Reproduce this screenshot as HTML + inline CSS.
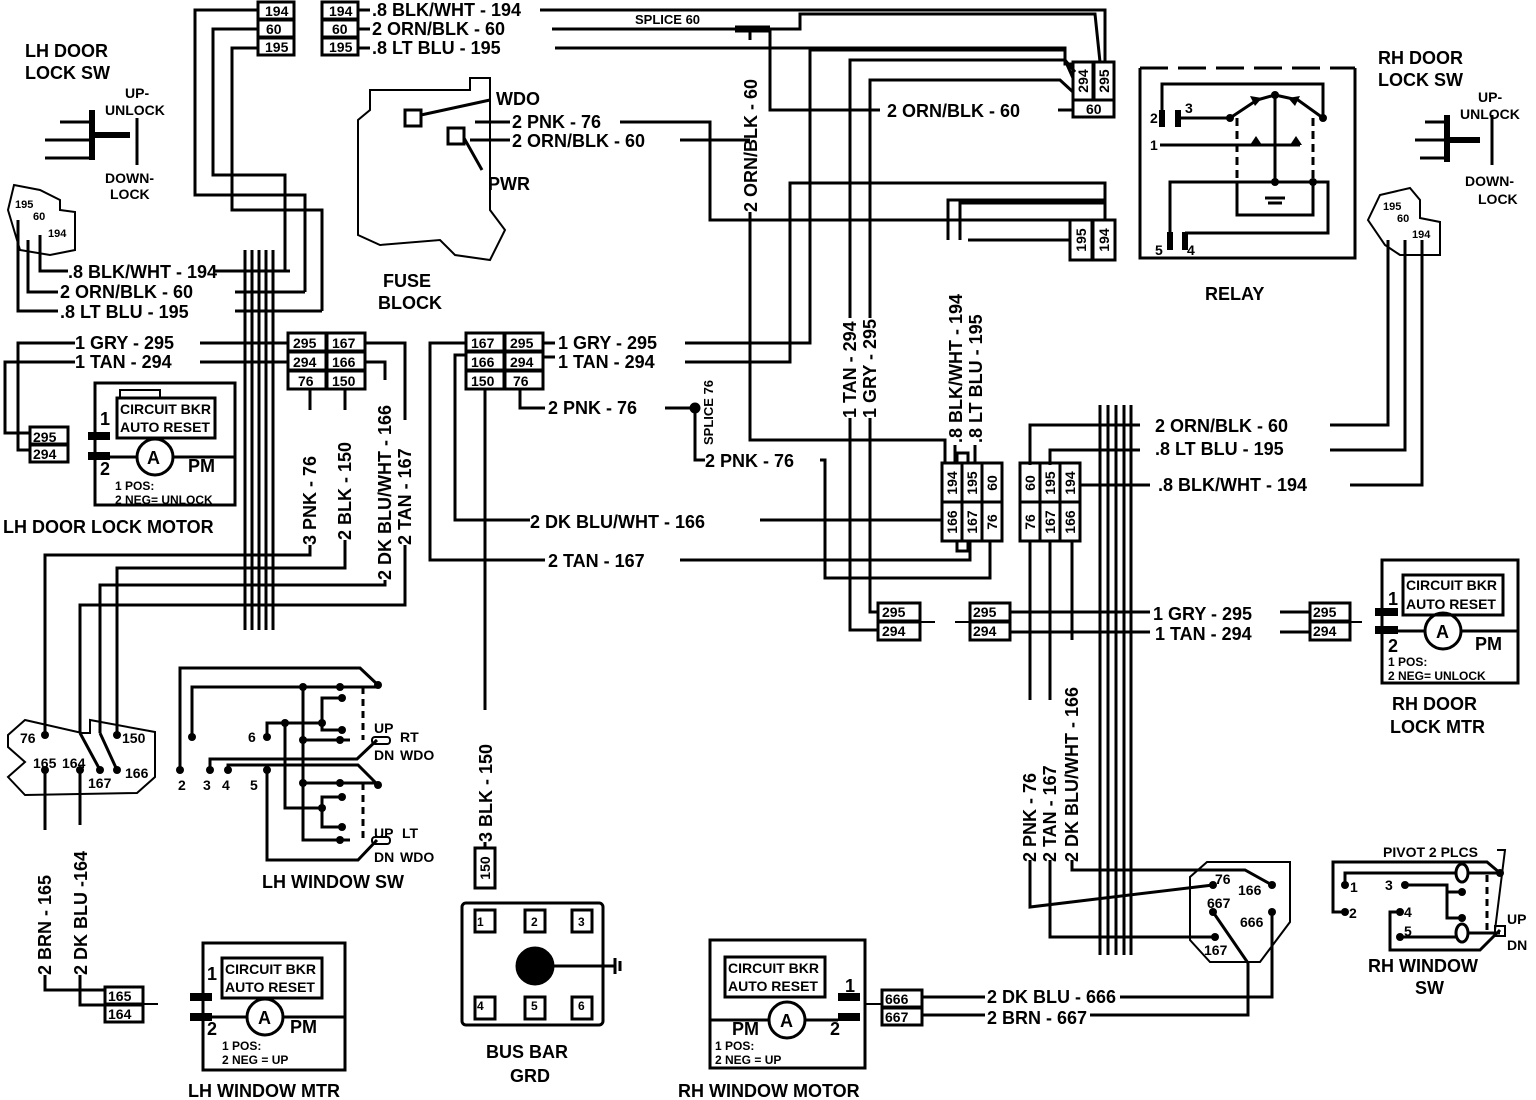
<!DOCTYPE html>
<html><head><meta charset="utf-8"><style>
html,body{margin:0;padding:0;background:#fff;}
svg{display:block;}
text{font-family:"Liberation Sans",Arial,sans-serif;font-weight:bold;fill:#000;}
</style></head><body>
<svg width="1536" height="1100" viewBox="0 0 1536 1100" xmlns="http://www.w3.org/2000/svg">
<g fill="none" stroke="#000" stroke-width="3" stroke-linejoin="miter">
<!-- top left connectors -->
<rect x="258" y="2" width="36" height="17"/><rect x="258" y="20" width="36" height="17"/><rect x="258" y="38" width="36" height="17"/>
<rect x="322" y="2" width="36" height="17"/><rect x="322" y="20" width="36" height="17"/><rect x="322" y="38" width="36" height="17"/>
<!-- top wires to right -->
<line x1="358" y1="10" x2="370" y2="10"/><line x1="358" y1="29" x2="370" y2="29"/><line x1="358" y1="48" x2="370" y2="48"/>
<polyline points="540,10 1105,10 1105,62"/>
<polyline points="552,29 735,29"/>
<polyline points="555,48 1065,48 1065,60 1073,78"/>
<line x1="735" y1="29" x2="770" y2="29" stroke-width="7"/>
<polyline points="770,29 800,29 800,14 1095,14 1100,62"/>
<polyline points="750,29 750,40"/>
<polyline points="750,212 750,440 945,440 945,463"/>
<polyline points="770,29 770,110 880,110"/>
<line x1="1058" y1="110" x2="1073" y2="110"/>
<!-- wires from top-left connector down -->
<polyline points="258,10 195,10 195,195 305,195 305,292"/>
<polyline points="258,29 213,29 213,175 285,175 285,271"/>
<polyline points="258,48 232,48 232,210 322,210 322,311"/>
<polyline points="215,271 290,271"/>
<polyline points="235,292 305,292"/>
<polyline points="235,311 322,311"/>
<polyline points="68,271 40,271 40,235"/>
<polyline points="58,292 28,292 28,240"/>
<polyline points="58,311 18,311 18,220"/>
<!-- left harness -->
<line x1="245" y1="250" x2="245" y2="630"/><line x1="252" y1="250" x2="252" y2="630"/>
<line x1="259" y1="250" x2="259" y2="630"/><line x1="266" y1="250" x2="266" y2="630"/>
<line x1="273" y1="250" x2="273" y2="630"/>
<!-- LH door lock sw -->
<polyline points="60,122 90,122"/><polyline points="45,140 90,140"/><polyline points="45,158 90,158"/>
<line x1="92" y1="110" x2="92" y2="160" stroke-width="6"/>
<line x1="92" y1="135" x2="130" y2="135" stroke-width="6"/>
<line x1="137" y1="118" x2="137" y2="165"/>
<polygon points="14,185 40,190 60,200 60,210 75,212 75,250 50,255 20,250 14,230 8,210" stroke-width="2"/>
<!-- 1 GRY / TAN -->
<polyline points="200,343 288,343"/><polyline points="200,362 288,362"/>
<polyline points="75,343 18,343 18,450 30,450"/>
<polyline points="75,362 5,362 5,433 30,433"/>
<rect x="288" y="333" width="38" height="18"/><rect x="327" y="333" width="38" height="18"/>
<rect x="288" y="352" width="38" height="18"/><rect x="327" y="352" width="38" height="18"/>
<rect x="288" y="371" width="38" height="18"/><rect x="327" y="371" width="38" height="18"/>
<polyline points="365,343 405,343 405,420"/><polyline points="365,362 385,362 385,380"/>
<polyline points="310,389 310,410"/><polyline points="345,389 345,410"/>
<!-- LH door lock motor -->
<rect x="30" y="427" width="38" height="17"/><rect x="30" y="445" width="38" height="17"/>
<rect x="95" y="383" width="140" height="122"/>
<rect x="117" y="398" width="98" height="40"/>
<polyline points="120,398 120,390 160,390 160,398" stroke-width="2"/>
<line x1="88" y1="436" x2="110" y2="436" stroke-width="8"/>
<line x1="88" y1="456" x2="110" y2="456" stroke-width="8"/>
<circle cx="155" cy="457" r="18"/>
<line x1="110" y1="457" x2="137" y2="457"/><line x1="173" y1="457" x2="235" y2="457"/>
<!-- LH bottom wires -->
<polyline points="45,735 45,555 310,555 310,545"/>
<polyline points="100,733 100,585 385,585 385,580"/>
<polyline points="117,735 117,568 345,568 345,540"/>
<polyline points="80,733 80,605 405,605 405,545"/>
<polyline points="80,733 100,770"/><polyline points="100,733 117,770"/>
<polygon points="8,735 25,720 82,733 90,733 90,720 155,732 155,777 137,793 25,795 8,777 25,762 8,747" stroke-width="2"/>
<polyline points="45,770 45,830"/><polyline points="45,975 45,990 105,990"/>
<polyline points="80,770 80,825"/><polyline points="80,975 80,1005 105,1005"/>
<rect x="105" y="987" width="38" height="17"/><rect x="105" y="1005" width="38" height="17"/>
<line x1="143" y1="1004" x2="158" y2="1004" stroke-width="2"/>
<!-- fuse block -->
<polygon points="370,90 470,90 470,78 490,78 490,210 505,230 490,260 455,255 440,240 380,245 358,235 358,120 370,110" stroke-width="2"/>
<rect x="405" y="110" width="16" height="16"/><rect x="448" y="128" width="16" height="16"/>
<line x1="421" y1="115" x2="490" y2="100"/>
<line x1="464" y1="138" x2="482" y2="170"/>
<polyline points="475,122 510,122"/><polyline points="470,140 510,140"/>
<polyline points="620,122 710,122 710,220 1105,220 1105,203 960,203 960,240"/>
<polyline points="680,140 750,140"/>
<!-- center connector -->
<rect x="466" y="333" width="38" height="18"/><rect x="505" y="333" width="38" height="18"/>
<rect x="466" y="352" width="38" height="18"/><rect x="505" y="352" width="38" height="18"/>
<rect x="466" y="371" width="38" height="18"/><rect x="505" y="371" width="38" height="18"/>
<polyline points="543,343 555,343"/><polyline points="543,357 555,357"/>
<polyline points="685,343 810,343 810,50 1065,50 1065,64 1073,64"/>
<polyline points="685,362 790,362 790,183 1105,183 1105,220"/>
<polyline points="520,389 520,408 545,408"/>
<polyline points="665,408 695,408 695,460 705,460"/>
<circle cx="695" cy="408" r="4" fill="#000"/>
<polyline points="466,355 455,355 455,520 530,520"/>
<polyline points="466,343 430,343 430,560 545,560"/>
<polyline points="760,520 942,520"/><polyline points="680,560 970,560 970,540"/>
<line x1="485" y1="389" x2="485" y2="710"/>
<line x1="485" y1="842" x2="485" y2="848"/>
<rect x="475" y="848" width="20" height="40"/>
<!-- vertical wires middle -->
<polyline points="820,460 825,460 825,578 990,578 990,540"/>
<polyline points="850,418 850,630 878,630"/>
<polyline points="870,418 870,612 878,612"/>
<polyline points="955,445 955,463"/>
<polyline points="975,445 975,463"/>
<polyline points="948,240 948,200 1105,200"/>
<polyline points="968,240 1070,240"/>
<polyline points="850,318 850,60 1065,60 1075,72"/>
<polyline points="870,318 870,80 1060,80 1073,92"/>
<!-- right connectors -->
<rect x="1073" y="62" width="20" height="38"/><rect x="1094" y="62" width="20" height="38"/><rect x="1073" y="100" width="41" height="17"/>
<rect x="1070" y="220" width="22" height="40"/><rect x="1093" y="220" width="22" height="40"/>
<!-- relay -->
<polyline points="1140,68 1140,258 1355,258 1355,68"/>
<line x1="1140" y1="68" x2="1355" y2="68" stroke-dasharray="28,10"/>
<line x1="1162" y1="110" x2="1162" y2="127" stroke-width="6"/><line x1="1178" y1="110" x2="1178" y2="127" stroke-width="6"/>
<polyline points="1162,110 1162,84 1323,84 1323,118"/>
<polyline points="1178,118 1230,118 1257,100"/>
<polyline points="1275,95 1257,100"/><polyline points="1275,95 1298,100 1323,118"/>
<line x1="1275" y1="95" x2="1275" y2="182"/>
<line x1="1160" y1="145" x2="1300" y2="145"/>
<line x1="1237" y1="118" x2="1237" y2="180" stroke-dasharray="8,5"/>
<line x1="1313" y1="118" x2="1313" y2="180" stroke-dasharray="8,5"/>
<polyline points="1170,240 1170,182 1328,182 1328,233 1185,233"/>
<polyline points="1237,182 1237,215 1313,215 1313,182"/>
<line x1="1170" y1="232" x2="1170" y2="250" stroke-width="6"/><line x1="1185" y1="232" x2="1185" y2="250" stroke-width="6"/>
<line x1="1265" y1="198" x2="1285" y2="198"/><line x1="1268" y1="203" x2="1282" y2="203"/>
<!-- RH door lock sw -->
<polyline points="1425,122 1445,122"/><polyline points="1415,140 1445,140"/><polyline points="1420,158 1445,158"/>
<line x1="1447" y1="115" x2="1447" y2="162" stroke-width="6"/>
<line x1="1447" y1="140" x2="1480" y2="140" stroke-width="6"/>
<line x1="1492" y1="115" x2="1492" y2="165"/>
<polygon points="1380,195 1410,188 1420,200 1420,218 1440,222 1440,255 1400,255 1385,245 1368,220" stroke-width="2"/>
<polyline points="1388,240 1388,425 1330,425"/>
<polyline points="1405,240 1405,450 1330,450"/>
<polyline points="1422,240 1422,485 1350,485"/>
<polyline points="1140,425 1030,425 1030,465"/>
<polyline points="1140,450 1050,450 1050,465"/>
<polyline points="1080,485 1150,485"/>
<!-- right harness -->
<line x1="1100" y1="405" x2="1100" y2="955"/><line x1="1108" y1="405" x2="1108" y2="955"/>
<line x1="1116" y1="405" x2="1116" y2="955"/><line x1="1124" y1="405" x2="1124" y2="955"/>
<line x1="1131" y1="405" x2="1131" y2="955"/>
<!-- center connectors -->
<rect x="942" y="463" width="20" height="39"/><rect x="962" y="463" width="20" height="39"/><rect x="982" y="463" width="20" height="39"/>
<rect x="942" y="502" width="20" height="39"/><rect x="962" y="502" width="20" height="39"/><rect x="982" y="502" width="20" height="39"/>
<rect x="957" y="453" width="11" height="10"/><rect x="957" y="541" width="11" height="10"/>
<rect x="1020" y="463" width="20" height="39"/><rect x="1040" y="463" width="20" height="39"/><rect x="1060" y="463" width="20" height="39"/>
<rect x="1020" y="502" width="20" height="39"/><rect x="1040" y="502" width="20" height="39"/><rect x="1060" y="502" width="20" height="39"/>
<!-- 295/294 connectors -->
<rect x="878" y="603" width="42" height="18"/><rect x="878" y="622" width="42" height="18"/>
<rect x="970" y="603" width="40" height="18"/><rect x="970" y="622" width="40" height="18"/>
<rect x="1310" y="603" width="40" height="18"/><rect x="1310" y="622" width="40" height="18"/>
<line x1="920" y1="622" x2="935" y2="622" stroke-width="2"/><line x1="955" y1="622" x2="970" y2="622" stroke-width="2"/><line x1="1350" y1="622" x2="1362" y2="622" stroke-width="2"/>
<polyline points="1010,612 1150,612"/><polyline points="1280,612 1310,612"/>
<polyline points="1010,632 1150,632"/><polyline points="1280,632 1310,632"/>
<polyline points="1050,540 1050,700"/><polyline points="1030,540 1030,700"/><polyline points="1072,540 1072,640"/>
<!-- RH door lock motor -->
<rect x="1382" y="560" width="136" height="123"/>
<rect x="1403" y="575" width="100" height="40"/>
<line x1="1375" y1="612" x2="1398" y2="612" stroke-width="8"/>
<line x1="1375" y1="630" x2="1398" y2="630" stroke-width="8"/>
<circle cx="1443" cy="631" r="18"/>
<line x1="1398" y1="631" x2="1425" y2="631"/><line x1="1461" y1="631" x2="1518" y2="631"/>
<!-- RH wires to window sw -->
<polyline points="1030,860 1030,907 1213,885"/>
<polyline points="1050,860 1050,937 1215,937"/>
<polyline points="1072,860 1072,870 1245,870 1272,885"/>
<polygon points="1207,862 1290,862 1290,922 1260,962 1210,962 1190,940 1190,877" stroke-width="2"/>
<polyline points="1213,912 1248,963 1248,1015 1090,1015"/>
<polyline points="1272,912 1272,997 1120,997"/>
<!-- RH window motor -->
<rect x="710" y="940" width="155" height="128"/>
<rect x="725" y="957" width="100" height="40"/>
<line x1="838" y1="997" x2="860" y2="997" stroke-width="8"/>
<line x1="838" y1="1017" x2="860" y2="1017" stroke-width="8"/>
<circle cx="787" cy="1020" r="18"/>
<line x1="710" y1="1020" x2="769" y2="1020"/><line x1="805" y1="1020" x2="838" y2="1020"/>
<rect x="882" y="990" width="40" height="17"/><rect x="882" y="1008" width="40" height="17"/>
<line x1="865" y1="1004" x2="882" y2="1004" stroke-width="2"/>
<line x1="922" y1="997" x2="985" y2="997"/><line x1="922" y1="1015" x2="985" y2="1015"/>
<!-- RH window sw -->
<polyline points="1345,912 1333,912 1333,862 1487,862 1500,873"/>
<polyline points="1345,885 1345,873 1456,873"/><polyline points="1468,873 1500,873"/>
<ellipse cx="1462" cy="873" rx="6" ry="9"/><ellipse cx="1462" cy="933" rx="6" ry="9"/>
<polyline points="1405,885 1447,885 1447,918 1462,918"/><line x1="1447" y1="892" x2="1462" y2="892"/>
<polyline points="1400,912 1390,912 1390,950 1480,950 1500,930"/>
<polyline points="1400,937 1456,937"/><polyline points="1468,933 1500,933"/>
<line x1="1487" y1="875" x2="1487" y2="932" stroke-dasharray="7,5"/>
<polyline points="1497,850 1505,850 1495,930" stroke-width="2"/>
<rect x="1495" y="926" width="10" height="10" stroke-width="2"/>
<!-- bus bar -->
<rect x="462" y="903" width="141" height="122" rx="4"/>
<rect x="475" y="910" width="20" height="22"/><rect x="525" y="910" width="20" height="22"/><rect x="572" y="910" width="20" height="22"/>
<rect x="475" y="997" width="20" height="22"/><rect x="525" y="997" width="20" height="22"/><rect x="572" y="997" width="20" height="22"/>
<circle cx="535" cy="966" r="18" fill="#000"/>
<line x1="553" y1="966" x2="615" y2="966"/>
<line x1="615" y1="958" x2="615" y2="974"/><line x1="620" y1="961" x2="620" y2="971"/>
<!-- LH window sw -->
<polyline points="180,770 180,668 360,668 378,685"/>
<polyline points="192,737 192,687 378,687"/>
<polyline points="303,687 303,840 342,840"/>
<polyline points="342,698 322,698 322,730 342,730"/>
<polyline points="267,737 267,723 322,723"/>
<polyline points="285,723 285,808 322,808"/>
<polyline points="303,740 350,740"/>
<polyline points="210,770 210,759 357,759 377,740"/>
<polyline points="228,770 228,765 358,765 378,785"/>
<polyline points="303,783 378,783"/>
<polyline points="342,797 322,797 322,827 342,827"/>
<polyline points="267,770 267,860 358,860 377,840"/>
<polyline points="303,840 350,840"/>
<line x1="363" y1="687" x2="363" y2="740" stroke-dasharray="7,5"/>
<line x1="363" y1="783" x2="363" y2="840" stroke-dasharray="7,5"/>
<rect x="372" y="737" width="18" height="7" rx="3" stroke-width="2"/>
<rect x="372" y="837" width="18" height="7" rx="3" stroke-width="2"/>
<!-- LH window motor -->
<rect x="203" y="943" width="142" height="127"/>
<rect x="222" y="958" width="100" height="40"/>
<line x1="190" y1="997" x2="212" y2="997" stroke-width="8"/>
<line x1="190" y1="1017" x2="212" y2="1017" stroke-width="8"/>
<circle cx="265" cy="1017" r="18"/>
<line x1="212" y1="1017" x2="247" y2="1017"/><line x1="283" y1="1017" x2="345" y2="1017"/>
</g>
<!-- dots -->
<g fill="#000">
<circle cx="192" cy="737" r="4"/><circle cx="303" cy="687" r="4"/><circle cx="340" cy="687" r="4"/><circle cx="378" cy="685" r="4"/>
<circle cx="342" cy="698" r="4"/><circle cx="342" cy="730" r="4"/><circle cx="322" cy="723" r="4"/><circle cx="285" cy="723" r="4"/>
<circle cx="267" cy="737" r="4"/><circle cx="303" cy="740" r="4"/><circle cx="340" cy="740" r="4"/>
<circle cx="180" cy="770" r="4"/><circle cx="210" cy="770" r="4"/><circle cx="228" cy="770" r="4"/><circle cx="267" cy="770" r="4"/>
<circle cx="303" cy="783" r="4"/><circle cx="340" cy="783" r="4"/><circle cx="378" cy="785" r="4"/>
<circle cx="342" cy="797" r="4"/><circle cx="342" cy="827" r="4"/><circle cx="322" cy="808" r="4"/><circle cx="340" cy="840" r="4"/>
<circle cx="45" cy="735" r="4"/><circle cx="117" cy="735" r="4"/><circle cx="45" cy="770" r="4"/><circle cx="80" cy="770" r="4"/>
<circle cx="100" cy="770" r="4"/><circle cx="117" cy="770" r="4"/>
<circle cx="1213" cy="885" r="4"/><circle cx="1272" cy="885" r="4"/><circle cx="1213" cy="912" r="4"/><circle cx="1272" cy="912" r="4"/><circle cx="1215" cy="937" r="4"/>
<circle cx="1345" cy="885" r="4"/><circle cx="1345" cy="912" r="4"/><circle cx="1405" cy="885" r="4"/><circle cx="1462" cy="892" r="4"/><circle cx="1462" cy="918" r="4"/>
<circle cx="1400" cy="912" r="4"/><circle cx="1400" cy="937" r="4"/><circle cx="1500" cy="873" r="4"/>
<circle cx="1275" cy="95" r="4"/><circle cx="1230" cy="118" r="4"/><circle cx="1323" cy="118" r="4"/><circle cx="1275" cy="182" r="4"/><circle cx="1313" cy="182" r="4"/>
<polygon points="1250,145 1256,136 1262,145"/><polygon points="1290,145 1296,136 1302,145"/>
<polygon points="1250,96 1262,98 1255,106"/><polygon points="1300,96 1288,98 1295,106"/>
</g>
<g font-size="18">
<text x="25" y="57">LH DOOR</text><text x="25" y="79">LOCK SW</text>
<text x="1378" y="64">RH DOOR</text><text x="1378" y="86">LOCK SW</text>
<text x="68" y="278">.8 BLK/WHT - 194</text>
<text x="60" y="298">2 ORN/BLK - 60</text>
<text x="60" y="318">.8 LT BLU - 195</text>
<text x="75" y="349">1 GRY - 295</text>
<text x="75" y="368">1 TAN - 294</text>
<text x="3" y="533">LH DOOR LOCK MOTOR</text>
<text x="372" y="16">.8 BLK/WHT - 194</text>
<text x="372" y="35">2 ORN/BLK - 60</text>
<text x="372" y="54">.8 LT BLU - 195</text>
<text x="496" y="105">WDO</text>
<text x="512" y="128">2 PNK - 76</text>
<text x="512" y="147">2 ORN/BLK - 60</text>
<text x="488" y="190">PWR</text>
<text x="383" y="287">FUSE</text><text x="378" y="309">BLOCK</text>
<text x="887" y="117">2 ORN/BLK - 60</text>
<text x="1205" y="300">RELAY</text>
<text x="558" y="349">1 GRY - 295</text>
<text x="558" y="368">1 TAN - 294</text>
<text x="548" y="414">2 PNK - 76</text>
<text x="705" y="467">2 PNK - 76</text>
<text x="530" y="528">2 DK BLU/WHT - 166</text>
<text x="548" y="567">2 TAN - 167</text>
<text x="1155" y="432">2 ORN/BLK - 60</text>
<text x="1155" y="455">.8 LT BLU - 195</text>
<text x="1158" y="491">.8 BLK/WHT - 194</text>
<text x="1153" y="620">1 GRY - 295</text>
<text x="1155" y="640">1 TAN - 294</text>
<text x="1392" y="710">RH DOOR</text><text x="1390" y="733">LOCK MTR</text>
<text x="1368" y="972">RH WINDOW</text><text x="1415" y="994">SW</text>
<text x="987" y="1003">2 DK BLU - 666</text>
<text x="987" y="1024">2 BRN - 667</text>
<text x="678" y="1097">RH WINDOW MOTOR</text>
<text x="486" y="1058">BUS BAR</text><text x="510" y="1082">GRD</text>
<text x="262" y="888">LH WINDOW SW</text>
<text x="188" y="1097">LH WINDOW MTR</text>
<text x="316" y="545" transform="rotate(-90 316 545)">3 PNK - 76</text>
<text x="351" y="540" transform="rotate(-90 351 540)">2 BLK - 150</text>
<text x="391" y="580" transform="rotate(-90 391 580)">2 DK BLU/WHT - 166</text>
<text x="411" y="545" transform="rotate(-90 411 545)">2 TAN - 167</text>
<text x="757" y="212" transform="rotate(-90 757 212)">2 ORN/BLK - 60</text>
<text x="856" y="418" transform="rotate(-90 856 418)">1 TAN - 294</text>
<text x="876" y="418" transform="rotate(-90 876 418)">1 GRY - 295</text>
<text x="962" y="443" transform="rotate(-90 962 443)">.8 BLK/WHT - 194</text>
<text x="982" y="443" transform="rotate(-90 982 443)">.8 LT BLU - 195</text>
<text x="492" y="842" transform="rotate(-90 492 842)">3 BLK - 150</text>
<text x="1036" y="862" transform="rotate(-90 1036 862)">2 PNK - 76</text>
<text x="1056" y="862" transform="rotate(-90 1056 862)">2 TAN - 167</text>
<text x="1078" y="862" transform="rotate(-90 1078 862)">2 DK BLU/WHT - 166</text>
<text x="51" y="975" transform="rotate(-90 51 975)">2 BRN - 165</text>
<text x="87" y="975" transform="rotate(-90 87 975)">2 DK BLU -164</text>
</g>
<g font-size="14">
<text x="125" y="98">UP-</text><text x="105" y="115">UNLOCK</text>
<text x="105" y="183">DOWN-</text><text x="110" y="199">LOCK</text>
<text x="1478" y="102">UP-</text><text x="1460" y="119">UNLOCK</text>
<text x="1465" y="186">DOWN-</text><text x="1478" y="204">LOCK</text>
<text x="120" y="414">CIRCUIT BKR</text><text x="120" y="432">AUTO RESET</text>
<text x="1406" y="590">CIRCUIT BKR</text><text x="1406" y="609">AUTO RESET</text>
<text x="728" y="973">CIRCUIT BKR</text><text x="728" y="991">AUTO RESET</text>
<text x="225" y="974">CIRCUIT BKR</text><text x="225" y="992">AUTO RESET</text>
<text x="115" y="490" font-size="12">1 POS:</text><text x="115" y="504" font-size="12">2 NEG= UNLOCK</text>
<text x="1388" y="666" font-size="12">1 POS:</text><text x="1388" y="680" font-size="12">2 NEG= UNLOCK</text>
<text x="715" y="1050" font-size="12">1 POS:</text><text x="715" y="1064" font-size="12">2 NEG = UP</text>
<text x="222" y="1050" font-size="12">1 POS:</text><text x="222" y="1064" font-size="12">2 NEG = UP</text>
<text x="265" y="16">194</text><text x="266" y="34">60</text><text x="265" y="52">195</text>
<text x="329" y="16">194</text><text x="332" y="34">60</text><text x="329" y="52">195</text>
<text x="293" y="348">295</text><text x="332" y="348">167</text>
<text x="293" y="367">294</text><text x="332" y="367">166</text>
<text x="298" y="386">76</text><text x="332" y="386">150</text>
<text x="471" y="348">167</text><text x="510" y="348">295</text>
<text x="471" y="367">166</text><text x="510" y="367">294</text>
<text x="471" y="386">150</text><text x="513" y="386">76</text>
<text x="33" y="442">295</text><text x="33" y="459">294</text>
<text x="108" y="1001">165</text><text x="108" y="1019">164</text>
<text x="882" y="617">295</text><text x="882" y="636">294</text>
<text x="973" y="617">295</text><text x="973" y="636">294</text>
<text x="1313" y="617">295</text><text x="1313" y="636">294</text>
<text x="885" y="1004">666</text><text x="885" y="1022">667</text>
<text x="1086" y="114">60</text>
<text x="100" y="425" font-size="18">1</text><text x="100" y="475" font-size="18">2</text>
<text x="1388" y="605" font-size="18">1</text><text x="1388" y="652" font-size="18">2</text>
<text x="845" y="992" font-size="18">1</text><text x="830" y="1035" font-size="18">2</text>
<text x="207" y="980" font-size="18">1</text><text x="207" y="1035" font-size="18">2</text>
<text x="188" y="472" font-size="18">PM</text><text x="1475" y="650" font-size="18">PM</text>
<text x="732" y="1035" font-size="18">PM</text><text x="290" y="1033" font-size="18">PM</text>
<text x="147" y="464" font-size="18">A</text><text x="1436" y="638" font-size="18">A</text>
<text x="780" y="1027" font-size="18">A</text><text x="258" y="1024" font-size="18">A</text>
<text x="1383" y="857">PIVOT 2 PLCS</text>
<text x="1507" y="924">UP</text><text x="1507" y="950">DN</text>
<text x="374" y="733">UP</text><text x="400" y="742">RT</text>
<text x="374" y="760">DN</text><text x="400" y="760">WDO</text>
<text x="374" y="838">UP</text><text x="402" y="838">LT</text>
<text x="374" y="862">DN</text><text x="400" y="862">WDO</text>
<text x="1150" y="123">2</text><text x="1185" y="113">3</text><text x="1150" y="150">1</text>
<text x="1155" y="255">5</text><text x="1187" y="255">4</text>
<text x="1350" y="892">1</text><text x="1349" y="918">2</text><text x="1385" y="890">3</text>
<text x="1404" y="917">4</text><text x="1404" y="936">5</text>
<text x="248" y="742">6</text>
<text x="178" y="790">2</text><text x="203" y="790">3</text><text x="222" y="790">4</text><text x="250" y="790">5</text>
<text x="1215" y="884">76</text><text x="1238" y="895">166</text>
<text x="1207" y="908">667</text><text x="1240" y="927">666</text><text x="1204" y="955">167</text>
<text x="20" y="743">76</text><text x="122" y="743">150</text>
<text x="33" y="768">165</text><text x="62" y="768">164</text>
<text x="88" y="788">167</text><text x="125" y="778">166</text>
<!-- rotated connector labels -->
<text x="957" y="483" text-anchor="middle" transform="rotate(-90 957 483)">194</text>
<text x="977" y="483" text-anchor="middle" transform="rotate(-90 977 483)">195</text>
<text x="997" y="483" text-anchor="middle" transform="rotate(-90 997 483)">60</text>
<text x="957" y="522" text-anchor="middle" transform="rotate(-90 957 522)">166</text>
<text x="977" y="522" text-anchor="middle" transform="rotate(-90 977 522)">167</text>
<text x="997" y="522" text-anchor="middle" transform="rotate(-90 997 522)">76</text>
<text x="1035" y="483" text-anchor="middle" transform="rotate(-90 1035 483)">60</text>
<text x="1055" y="483" text-anchor="middle" transform="rotate(-90 1055 483)">195</text>
<text x="1075" y="483" text-anchor="middle" transform="rotate(-90 1075 483)">194</text>
<text x="1035" y="522" text-anchor="middle" transform="rotate(-90 1035 522)">76</text>
<text x="1055" y="522" text-anchor="middle" transform="rotate(-90 1055 522)">167</text>
<text x="1075" y="522" text-anchor="middle" transform="rotate(-90 1075 522)">166</text>
<text x="1088" y="81" text-anchor="middle" transform="rotate(-90 1088 81)">294</text>
<text x="1109" y="81" text-anchor="middle" transform="rotate(-90 1109 81)">295</text>
<text x="1086" y="240" text-anchor="middle" transform="rotate(-90 1086 240)">195</text>
<text x="1109" y="240" text-anchor="middle" transform="rotate(-90 1109 240)">194</text>
<text x="490" y="868" text-anchor="middle" transform="rotate(-90 490 868)">150</text>
<text x="477" y="926" font-size="12">1</text><text x="531" y="926" font-size="12">2</text><text x="578" y="926" font-size="12">3</text>
<text x="477" y="1010" font-size="12">4</text><text x="531" y="1010" font-size="12">5</text><text x="578" y="1010" font-size="12">6</text>
<text x="15" y="208" font-size="11">195</text><text x="33" y="220" font-size="11">60</text><text x="48" y="237" font-size="11">194</text>
<text x="1383" y="210" font-size="11">195</text><text x="1397" y="222" font-size="11">60</text><text x="1412" y="238" font-size="11">194</text>
<text x="635" y="24" font-size="13">SPLICE 60</text>
<text x="713" y="445" font-size="13" transform="rotate(-90 713 445)">SPLICE 76</text>
</g>
</svg>
</body></html>
